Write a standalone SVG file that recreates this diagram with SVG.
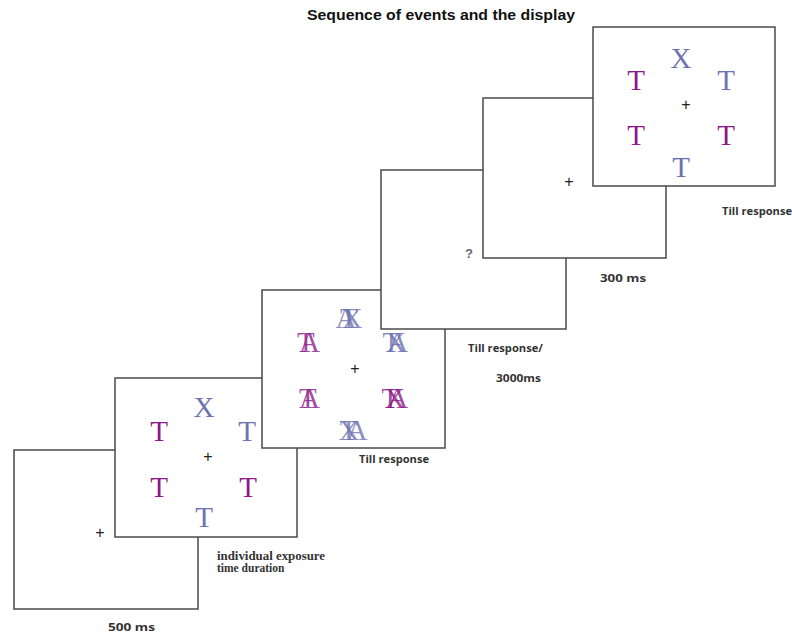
<svg xmlns="http://www.w3.org/2000/svg" width="792" height="634" viewBox="0 0 792 634">
<style>
.frame{fill:#fff;stroke:#4a4a4a;stroke-width:1.5}
.fix{font-family:"Liberation Sans",sans-serif;font-size:16px;fill:#222;text-anchor:middle;dominant-baseline:central}
.let{font-family:"Liberation Serif",serif;font-size:29px;text-anchor:middle}
.mask{font-family:"Liberation Serif",serif;font-size:29px;fill-opacity:0.8}
.p{fill:#8a1a88}
.b{fill:#6e72b0}
.lab{font-family:"Open Sans","Liberation Sans",sans-serif;font-size:11px;font-weight:bold;fill:#333}
.ser{font-family:"Liberation Serif",serif;font-size:11.5px;font-weight:bold;fill:#333}
.title{font-family:"Liberation Sans",sans-serif;font-size:14px;font-weight:bold;fill:#111}
</style>
<rect width="792" height="634" fill="#fff"/>
<text class="title" x="307" y="20" textLength="268" lengthAdjust="spacingAndGlyphs">Sequence of events  and the display</text>

<g id="frame1">
<rect class="frame" x="14" y="450" width="184" height="159"/>
<text class="fix" x="100" y="532">+</text>
</g>

<g id="frame2">
<rect class="frame" x="115" y="378" width="182" height="159"/>
<text class="let b" x="204" y="417">X</text>
<text class="let p" x="159" y="441">T</text>
<text class="let b" x="247" y="441">T</text>
<text class="fix" x="208" y="456">+</text>
<text class="let p" x="159" y="497">T</text>
<text class="let p" x="248" y="497">T</text>
<text class="let b" x="204" y="527">T</text>
</g>

<g id="frame3">
<rect class="frame" x="262" y="290" width="183" height="158"/>
<text class="mask b" x="335.5" y="328">A<tspan dx="-14.9">X</tspan><tspan dx="-22.4">T</tspan></text>
<text class="mask p" x="297.1" y="352">T<tspan dx="-13.4">A</tspan></text>
<text class="mask b" x="382.5" y="352">X<tspan dx="-19">A</tspan><tspan dx="-22.4">T</tspan></text>
<text class="fix" x="355" y="368">+</text>
<text class="mask p" x="299.1" y="408">T<tspan dx="-15.4">A</tspan></text>
<text class="mask p" x="381.5" y="408">X<tspan dx="-18">A</tspan><tspan dx="-23.4">T</tspan></text>
<text class="mask b" x="338.5" y="440">X<tspan dx="-13">A</tspan><tspan dx="-24.4">T</tspan></text>
</g>

<g id="frame4">
<rect class="frame" x="381" y="170" width="185" height="159"/>
<text x="469" y="258" font-family="Liberation Sans,sans-serif" font-size="13" font-weight="bold" fill="#666" text-anchor="middle">?</text>
</g>

<g id="frame5">
<rect class="frame" x="483" y="98" width="183" height="160"/>
<text class="fix" x="569" y="181">+</text>
</g>

<g id="frame6">
<rect class="frame" x="593" y="27" width="182" height="159"/>
<text class="let b" x="681" y="68">X</text>
<text class="let p" x="636" y="90">T</text>
<text class="let b" x="726" y="90">T</text>
<text class="fix" x="686" y="104">+</text>
<text class="let p" x="636" y="145">T</text>
<text class="let p" x="726" y="145">T</text>
<text class="let b" x="681" y="177">T</text>
</g>

<g id="labels">
<text class="lab" x="108" y="631" font-size="12.5" textLength="47" lengthAdjust="spacingAndGlyphs">500 ms</text>
<text class="ser" x="217" y="560" textLength="108" lengthAdjust="spacingAndGlyphs">individual exposure</text>
<text class="ser" x="217" y="572">time duration</text>
<text class="lab" x="359" y="463" textLength="70" lengthAdjust="spacingAndGlyphs">Till response</text>
<text class="lab" x="468" y="352" textLength="75" lengthAdjust="spacingAndGlyphs">Till response/</text>
<text class="lab" x="496" y="382" textLength="45" lengthAdjust="spacingAndGlyphs">3000ms</text>
<text class="lab" x="600" y="282" textLength="46" lengthAdjust="spacingAndGlyphs">300 ms</text>
<text class="lab" x="722" y="215" textLength="70" lengthAdjust="spacingAndGlyphs">Till response</text>
</g>
</svg>
